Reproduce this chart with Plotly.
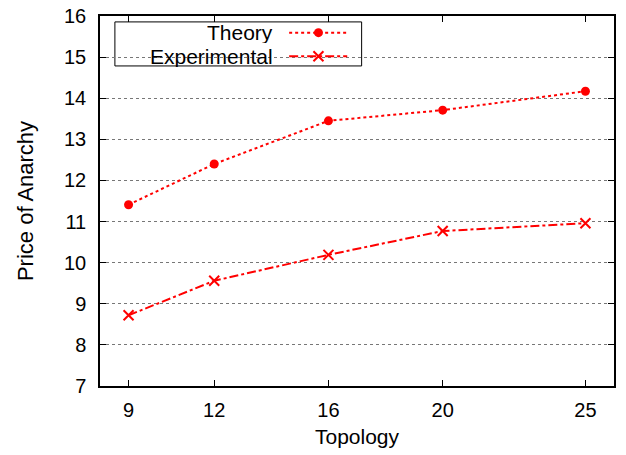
import plotly.graph_objects as go

topology = [9, 12, 16, 20, 25]
theory = [11.41, 12.40, 13.45, 13.71, 14.17]
experimental = [8.72, 9.56, 10.19, 10.77, 10.96]
series_names = ["Theory", "Experimental"]
y_ticks = list(range(7, 17))

RED = "#ff0000"
FONT = "Liberation Sans, Arial, sans-serif"

fig = go.Figure()
fig.add_trace(go.Scatter(x=topology, y=theory, mode="lines+markers", name=series_names[0],
                         line=dict(color=RED, width=2, dash="dot"),
                         marker=dict(symbol="circle", size=9, color=RED), showlegend=False))
fig.add_trace(go.Scatter(x=topology, y=experimental, mode="lines+markers", name=series_names[1],
                         line=dict(color=RED, width=2, dash="dashdot"),
                         marker=dict(symbol="x-thin", size=10, color=RED, line=dict(color=RED, width=2)),
                         showlegend=False))

# Custom legend (text left, sample on right), on overlay paper-like axes
leg_y = [0.955, 0.891]
sx0, sxm, sx1 = 0.368, 0.425, 0.481
fig.add_trace(go.Scatter(x=[sx0, sx1], y=[leg_y[0]] * 2, mode="lines", xaxis="x2", yaxis="y2",
                         line=dict(color=RED, width=2, dash="dot"), showlegend=False, hoverinfo="skip"))
fig.add_trace(go.Scatter(x=[sxm], y=[leg_y[0]], mode="markers", xaxis="x2", yaxis="y2",
                         marker=dict(symbol="circle", size=9, color=RED), showlegend=False, hoverinfo="skip"))
fig.add_trace(go.Scatter(x=[sx0, sx1], y=[leg_y[1]] * 2, mode="lines", xaxis="x2", yaxis="y2",
                         line=dict(color=RED, width=2, dash="dashdot"), showlegend=False, hoverinfo="skip"))
fig.add_trace(go.Scatter(x=[sxm], y=[leg_y[1]], mode="markers", xaxis="x2", yaxis="y2",
                         marker=dict(symbol="x-thin", size=10, color=RED, line=dict(color=RED, width=2)),
                         showlegend=False, hoverinfo="skip"))

for name, yy in zip(series_names, leg_y):
    fig.add_annotation(x=0.341, y=yy, xref="paper", yref="paper", text=name, showarrow=False,
                       xanchor="right", yanchor="middle", height=21, valign="middle",
                       font=dict(size=21, color="black", family=FONT))

fig.add_shape(type="rect", xref="paper", yref="paper", x0=0.029, x1=0.509, y0=0.865, y1=0.984,
              line=dict(color="black", width=1), fillcolor="white", layer="between")

fig.update_layout(
    width=626, height=455,
    margin=dict(l=100, r=12, t=16, b=69, autoexpand=False),
    plot_bgcolor="white", paper_bgcolor="white",
    showlegend=False,
    font=dict(family=FONT, size=20, color="black"),
    xaxis=dict(range=[8, 26], tickvals=topology, ticktext=[str(t) for t in topology],
               ticks="inside", ticklen=6, tickcolor="black", mirror="ticks", showline=True,
               linecolor="black", linewidth=1.5, showgrid=False, zeroline=False,
               tickfont=dict(size=20),
               title=dict(text="Topology", standoff=10, font=dict(size=21)), ticklabelstandoff=5),
    yaxis=dict(range=[7, 16], tickvals=y_ticks, ticks="inside", ticklen=6, tickcolor="black",
               mirror="ticks", showline=True, linecolor="black", linewidth=1.5,
               showgrid=True, gridcolor="#777777", griddash="dot", gridwidth=1, zeroline=False,
               tickfont=dict(size=20),
               title=dict(text="Price of Anarchy", standoff=24, font=dict(size=22)), ticklabelstandoff=8),
    xaxis2=dict(range=[0, 1], overlaying="x", visible=False, fixedrange=True),
    yaxis2=dict(range=[0, 1], overlaying="y", visible=False, fixedrange=True),
)

fig.write_html("out.html")
